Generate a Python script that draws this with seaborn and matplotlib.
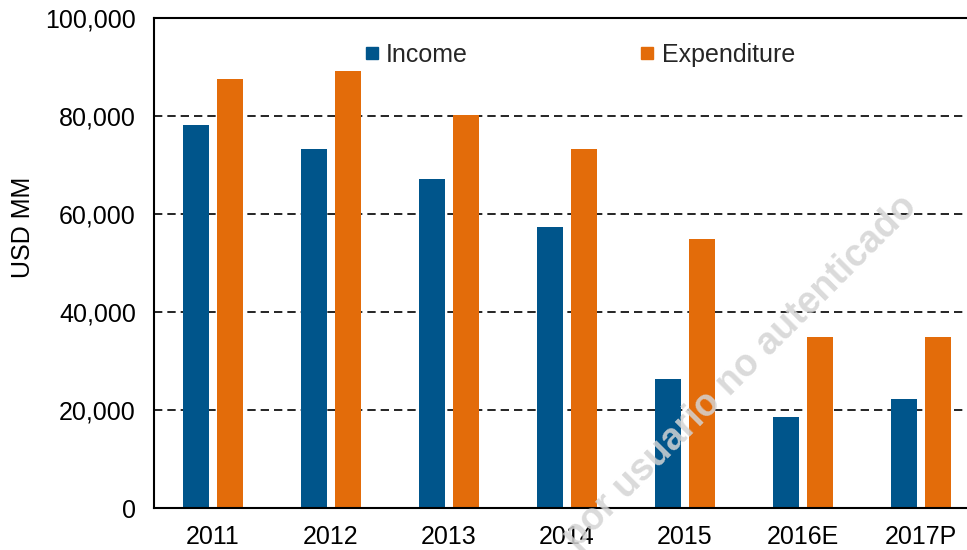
import matplotlib
matplotlib.use("Agg")
import matplotlib.pyplot as plt
import seaborn as sns
import pandas as pd
from matplotlib.ticker import FuncFormatter
from matplotlib.lines import Line2D

years = ["2011", "2012", "2013", "2014", "2015", "2016E", "2017P"]
income = [78200, 73300, 67100, 57300, 26300, 18600, 22200]
expenditure = [87600, 89200, 80200, 73300, 54900, 34900, 34900]
series = ["Income", "Expenditure"]
colors = ["#00558B", "#E36C0A"]

df = pd.DataFrame({
    "Year": years * 2,
    "Value": income + expenditure,
    "Series": [series[0]] * len(years) + [series[1]] * len(years),
})

sns.set_theme(style="white")
plt.rcParams["font.family"] = ["Liberation Sans", "DejaVu Sans"]

fig = plt.figure(figsize=(9.67, 5.5), dpi=100)
W, H = 967, 550
left, right, top, bottom = 154, 980, 18, 508
ax = fig.add_axes([left / W, 1 - bottom / H, (right - left) / W, (bottom - top) / H])

sns.barplot(data=df, x="Year", y="Value", hue="Series", palette=colors,
            width=0.576, gap=0.235, ax=ax, saturation=1, legend=False,
            linewidth=0)

ax.set_ylim(0, 100000)
ax.set_xlim(-0.5, len(years) - 0.5)
ax.set_yticks(range(0, 100001, 20000))
ax.yaxis.set_major_formatter(FuncFormatter(lambda v, p: f"{int(v):,}"))
for y in range(20000, 100000, 20000):
    ax.axhline(y, color="black", lw=1.2, ls=(0, (5, 3)), zorder=0)

for s in ["left", "bottom", "top"]:
    ax.spines[s].set_visible(True)
    ax.spines[s].set_color("black")
    ax.spines[s].set_linewidth(1.5)
ax.spines["right"].set_visible(False)

ax.tick_params(axis="both", labelsize=18, colors="black", length=0)
ax.tick_params(axis="y", pad=13)
ax.tick_params(axis="x", pad=12.5)
ax.set_xlabel("")
ax.set_ylabel("USD MM", fontsize=18, color="black", va="center", ha="center")
ax.yaxis.set_label_coords((23 - left) / (right - left), (bottom - 227) / (bottom - top))

handles = [Line2D([], [], ls="none", marker="s", markersize=8.5, color=c) for c in colors]
leg = ax.legend(handles, series, loc="upper center",
                bbox_to_anchor=((580 - left) / (right - left), 0.995),
                ncol=2, frameon=False, fontsize=18, handlelength=0.55,
                columnspacing=6.9, handletextpad=0.3)

fig.text(740 / W, 1 - 372 / H, "por usuario no autenticado", rotation=45,
         ha="center", va="center", fontsize=27, fontweight="bold",
         color="#d4d4d4", alpha=0.85, rotation_mode="anchor", zorder=10)

fig.savefig("out.png", dpi=100)
